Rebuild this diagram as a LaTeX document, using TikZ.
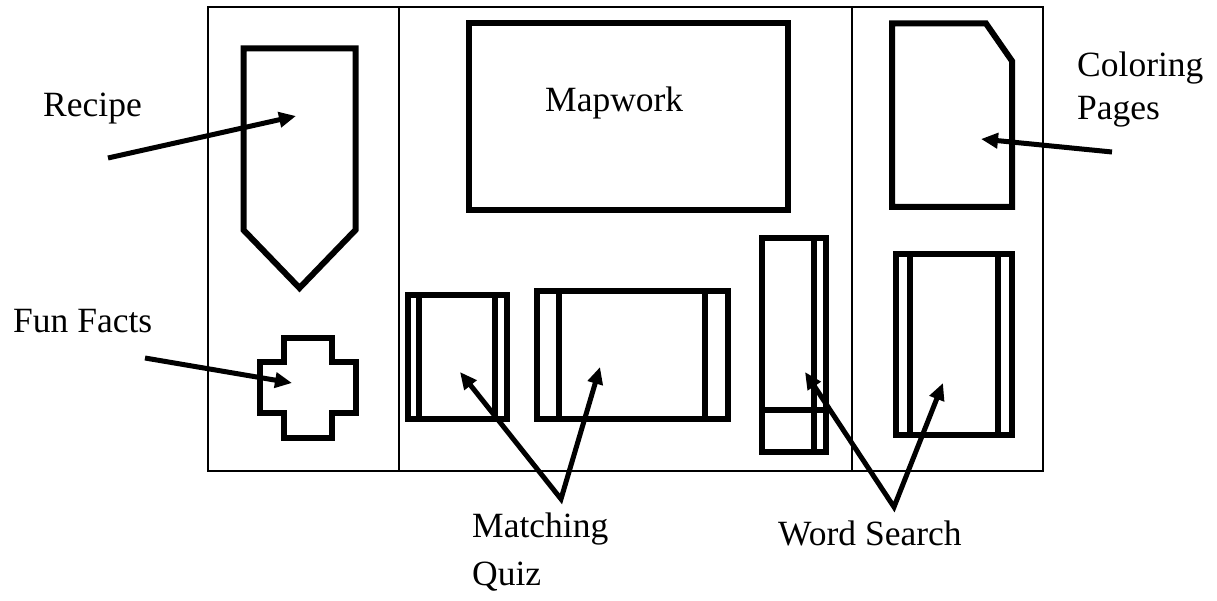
\documentclass[tikz,border=0pt]{standalone}
\usepackage{fontspec}
\setmainfont{Liberation Serif}
\usetikzlibrary{arrows.meta}
\begin{document}
\begin{tikzpicture}[x=1pt,y=-1pt,
  frame/.style={line width=2.5pt},
  part/.style={line width=6pt, line join=miter},
  tip/.style={Triangle[length=17pt,width=15pt]},
  pointer/.style={line width=5pt, -{Triangle[length=17pt,width=15pt]}},
  twin/.style={line width=5pt, line join=miter,
    {Triangle[length=17pt,width=15pt]}-{Triangle[length=17pt,width=15pt]}},
  lbl/.style={font=\fontsize{35.5}{48}\selectfont, inner sep=0pt, anchor=base west}]
\useasboundingbox (0,0) rectangle (1217,601);
\fill[white] (0,0) rectangle (1217,601);

% outer frame and the two column dividers
\draw[frame] (208,7) rectangle (1043,471);
\draw[frame] (399,7) -- (399,471);
\draw[frame] (852,7) -- (852,471);

% left column: pennant and cross
\draw[part] (243.5,48.5) -- (355.5,48.5) -- (355.5,230) -- (299.5,288) -- (243.5,230) -- cycle;
\draw[part] (284,338) -- (332,338) -- (332,362) -- (355.5,362) -- (355.5,413) -- (332,413)
  -- (332,437.5) -- (284,437.5) -- (284,413) -- (260,413) -- (260,362) -- (284,362) -- cycle;

% middle column
\draw[part] (468.5,23.5) rectangle (788,210);
\draw[part] (407.5,295) rectangle (507,419);
\draw[part] (419,295) -- (419,419);
\draw[part] (495,295) -- (495,419);
\draw[part] (536.5,291) rectangle (728,419);
\draw[part] (559,291) -- (559,419);
\draw[part] (704.5,291) -- (704.5,419);
\draw[part] (762,238) rectangle (826,452);
\draw[part] (814,238) -- (814,452);
\draw[part] (762,410) -- (826,410);

% right column
\draw[part] (892,23.5) -- (986,23.5) -- (1012,61) -- (1012,207) -- (892,207) -- cycle;
\draw[part] (896,254.5) rectangle (1012,434.5);
\draw[part] (910,254.5) -- (910,434.5);
\draw[part] (998,254.5) -- (998,434.5);

% labels
\node[lbl] (recipe) at (43,117) {Recipe};
\node[lbl] (funfacts) at (13,332) {Fun Facts};
\node[lbl] (mapwork) at (545,112) {Mapwork};
\node[lbl] (coloring) at (1077,77) {Coloring};
\node[lbl] (pages) at (1077,120) {Pages};
\node[lbl] (matching) at (472,537) {Matching};
\node[lbl] (quiz) at (472,585) {Quiz};
\node[lbl] (wordsearch) at (778,545) {Word Search};

% pointer ends
\coordinate (recipeFrom) at (108,158);
\coordinate (recipeTo) at (296,116);
\coordinate (factsFrom) at (145,358);
\coordinate (factsTo) at (292,383);
\coordinate (colorFrom) at (1112,152);
\coordinate (colorTo) at (981,139);
\coordinate (quizFork) at (561,499);
\coordinate (quizToA) at (460,372);
\coordinate (quizToB) at (600,367);
\coordinate (wordFork) at (894,507);
\coordinate (wordToA) at (805,372);
\coordinate (wordToB) at (943,383);

% pointers
\draw[pointer] (recipeFrom) -- (recipeTo);
\draw[pointer] (factsFrom) -- (factsTo);
\draw[pointer] (colorFrom) -- (colorTo);
\draw[twin] (quizToA) -- (quizFork) -- (quizToB);
\draw[twin] (wordToA) -- (wordFork) -- (wordToB);
\end{tikzpicture}
\end{document}
